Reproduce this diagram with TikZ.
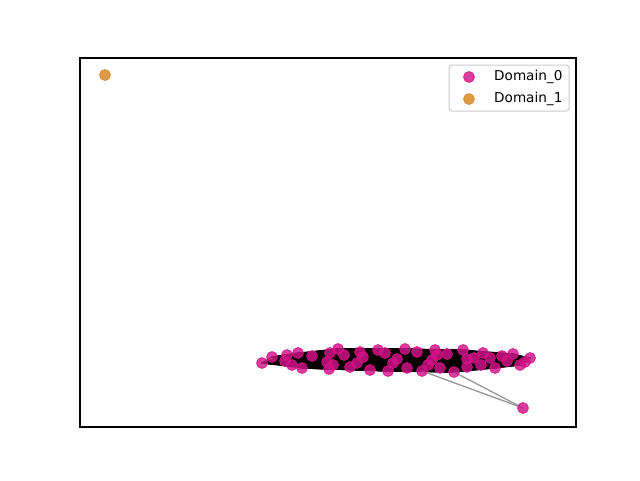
\documentclass[tikz,border=0pt]{standalone}
\usepackage{fontspec}
\setmainfont{DejaVu Sans}
\usetikzlibrary{backgrounds}
\definecolor{magc}{RGB}{212,18,136}
\definecolor{orc}{RGB}{214,134,35}
\definecolor{edgegray}{RGB}{150,150,150}
\definecolor{legframe}{RGB}{204,204,204}
\tikzset{
  dotzero/.style={circle, inner sep=0pt, minimum size=11pt, fill=magc, fill opacity=0.82, draw=magc, draw opacity=0.82, line width=0.8pt},
  dotone/.style={circle, inner sep=0pt, minimum size=11pt, fill=orc, fill opacity=0.82, draw=orc, draw opacity=0.82, line width=0.8pt},
  blackedge/.style={black, line width=1.2pt},
  grayedge/.style={edgegray, line width=1.3pt},
  legtext/.style={anchor=west, inner sep=0pt, font=\fontsize{13.6}{16}\selectfont}
}
\begin{document}
\begin{tikzpicture}[x=1pt,y=-1pt]
\useasboundingbox (0,0) rectangle (640,480);
\foreach \px/\py [count=\k] in {262/363,272/357,287/355,285/361,292/365,298/353,302/368,312/356,327/362,329/369,330/353,338/349,344/355,333/365,350/367,357/363,360/352,363/357,370/370,378/350,385/353,388/371,393/363,397/359,405/349,407/368,417/352,422/371,428/365,432/360,435/350,437/355,440/368,447/354,454/372,463/350,467/359,467/367,474/358,481/365,483/353,490/358,495/368,502/356,507/361,513/354,520/365,525/362,530/358}
  \node[dotzero] (n\k) at (\px,\py) {};
\node[dotzero] (out) at (523,408) {};
\node[dotone] (d1) at (105,75) {};
\begin{scope}[on background layer]
  \fill[white] (0,0) rectangle (640,480);
  \foreach \i in {1,...,49}
    \foreach \j in {\i,...,49}
      \draw[blackedge] (n\i.center) -- (n\j.center);
  \draw[grayedge] (n28.center) -- (out.center);
  \draw[grayedge] (n35.center) -- (out.center);
\end{scope}
\draw[line width=1.1pt] (80,58) rectangle (576,427);
% legend
\draw[legframe, fill=white, fill opacity=0.8, line width=1pt, rounded corners=3pt] (449,65) rectangle (569,111);
\node[dotzero] (l0) at (469,77) {};
\node[dotone] (l1) at (469,99) {};
\node[legtext] (t0) at (494,77) {Domain\_0};
\node[legtext] (t1) at (494,99) {Domain\_1};
\end{tikzpicture}
\end{document}
